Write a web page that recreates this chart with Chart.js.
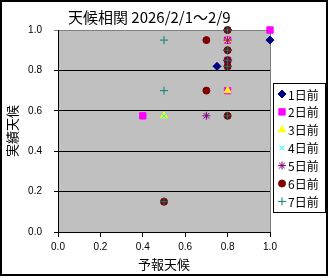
<!DOCTYPE html>
<html lang="ja">
<head>
<meta charset="utf-8">
<title>天候相関</title>
<style>
body { margin: 0; background: #fff; }
.holder { width: 329px; height: 277px; position: relative; }
</style>
</head>
<body>
<div class="holder"><canvas id="canvas" width="329" height="277"></canvas></div>
<script src="https://cdn.jsdelivr.net/npm/chart.js"></script>
<script>
// data: x = 予報天候, y = 実績天候
const seriesNames = ["1日前", "2日前", "3日前", "4日前", "5日前", "6日前", "7日前"];
const day1x = [1.0, 0.75, 0.8, 0.8, 0.8];
const day1y = [0.95, 0.82, 1.0, 0.9, 0.85];
const day2x = [1.0, 0.4, 0.8, 0.8, 0.8];
const day2y = [1.0, 0.575, 0.7, 0.95, 0.85];
const day3x = [0.8, 0.5, 0.8, 0.8];
const day3y = [0.7, 0.575, 0.95, 0.9];
const day4x = [0.5, 0.5, 0.8, 0.8, 0.8];
const day4y = [0.575, 0.15, 1.0, 0.85, 0.82];
const day5x = [0.7, 0.5, 0.8, 0.8, 0.8];
const day5y = [0.575, 0.15, 0.95, 1.0, 0.82];
const day6x = [0.7, 0.7, 0.8, 0.5, 0.8, 0.8, 0.8, 0.8];
const day6y = [0.95, 0.7, 0.575, 0.15, 1.0, 0.9, 0.85, 0.82];
const day7x = [0.5, 0.5, 0.8, 0.5, 0.8, 0.8, 0.8, 0.8];
const day7y = [0.95, 0.7, 0.575, 0.15, 1.0, 0.9, 0.85, 0.82];
const axisTicks = [0, 0.2, 0.4, 0.6, 0.8, 1.0];

const allX = [day1x, day2x, day3x, day4x, day5x, day6x, day7x];
const allY = [day1y, day2y, day3y, day4y, day5y, day6y, day7y];
const colors = ["#000080", "#ff00ff", "#ffff00", "#00ffff", "#800080", "#800000", "#008080"];
const styles = ["rectRot", "rect", "triangle", "crossRot", "star", "circle", "cross"];
const radii = [4, 4.5, 4, 3.5, 4, 3.5, 4];

const jp = "'Noto Sans CJK JP', sans-serif";
const num = "'Liberation Sans', sans-serif";

const datasets = seriesNames.map((name, i) => ({
  label: name,
  data: allX[i].map((x, j) => ({ x: x, y: allY[i][j] })),
  order: seriesNames.length - i,   // later series on top, like the original
  clip: false,
  pointStyle: styles[i],
  pointRadius: radii[i],
  pointHoverRadius: radii[i],
  backgroundColor: colors[i],
  borderColor: colors[i],
  pointBorderWidth: 1
}));

// grey plot area, frame, title and boxed legend
const decor = {
  id: "decor",
  beforeDraw(chart) {
    const c = chart.ctx, a = chart.chartArea;
    c.save();
    c.fillStyle = "#fff";
    c.fillRect(0, 0, chart.width, chart.height);
    c.fillStyle = "#c0c0c0";
    c.fillRect(a.left, a.top, a.right - a.left, a.bottom - a.top);
    c.strokeStyle = "#808080";
    c.lineWidth = 1;
    c.beginPath();
    c.moveTo(a.right + 0.5, a.top);
    c.lineTo(a.right + 0.5, a.bottom);
    c.stroke();
    c.restore();
  },
  afterDraw(chart) {
    const c = chart.ctx;
    c.save();
    // outer frame
    c.strokeStyle = "#000";
    c.lineWidth = 2;
    c.strokeRect(1, 1, 326, 274);
    // title
    c.fillStyle = "#000";
    c.font = "15px " + jp;
    c.textBaseline = "middle";
    c.textAlign = "left";
    c.fillText("天候相関 2026/2/1～2/9", 68, 17);
    // legend
    c.lineWidth = 1;
    c.strokeRect(273.5, 83.5, 52, 129);
    c.font = "12px " + jp;
    seriesNames.forEach((name, i) => {
      const y = 94 + i * 17.9;
      c.fillStyle = colors[i];
      c.strokeStyle = colors[i];
      Chart.helpers.drawPoint(c, { pointStyle: styles[i], radius: radii[i], borderWidth: 1 }, 282, y);
      c.fillStyle = "#000";
      c.fillText(name, 288, y + 1);
    });
    c.restore();
  }
};

new Chart(document.getElementById("canvas"), {
  type: "scatter",
  data: { datasets: datasets },
  options: {
    responsive: false,
    animation: false,
    events: [],
    layout: { padding: { left: 4, right: 59, top: 30, bottom: 4 } },
    plugins: { legend: { display: false }, title: { display: false }, tooltip: { enabled: false } },
    scales: {
      x: {
        type: "linear", min: 0, max: 1,
        afterBuildTicks: s => { s.ticks = axisTicks.map(v => ({ value: v })); },
        afterFit: s => { s.height = 41; },
        grid: { drawOnChartArea: false, drawTicks: true, tickLength: 5, color: "#000" },
        border: { color: "#000", width: 1 },
        ticks: { color: "#000", font: { family: num, size: 10 }, padding: 4, callback: v => v.toFixed(1) },
        title: { display: true, text: "予報天候", color: "#000", font: { family: jp, size: 13 }, padding: { top: 0, bottom: 1 } }
      },
      y: {
        type: "linear", min: 0, max: 1,
        afterBuildTicks: s => { s.ticks = axisTicks.map(v => ({ value: v })); },
        afterFit: s => { s.width = 54; },
        grid: {
          drawOnChartArea: true, drawTicks: true, tickLength: 4,
          color: ctx => (ctx.tick && ctx.tick.value === 1) ? "#808080" : "#000"
        },
        border: { color: "#000", width: 1 },
        ticks: { color: "#000", font: { family: num, size: 10 }, padding: 12, callback: v => v.toFixed(1) },
        title: { display: true, text: "実績天候", color: "#000", font: { family: jp, size: 13 }, padding: 0 }
      }
    }
  },
  plugins: [decor]
});
</script>
</body>
</html>
